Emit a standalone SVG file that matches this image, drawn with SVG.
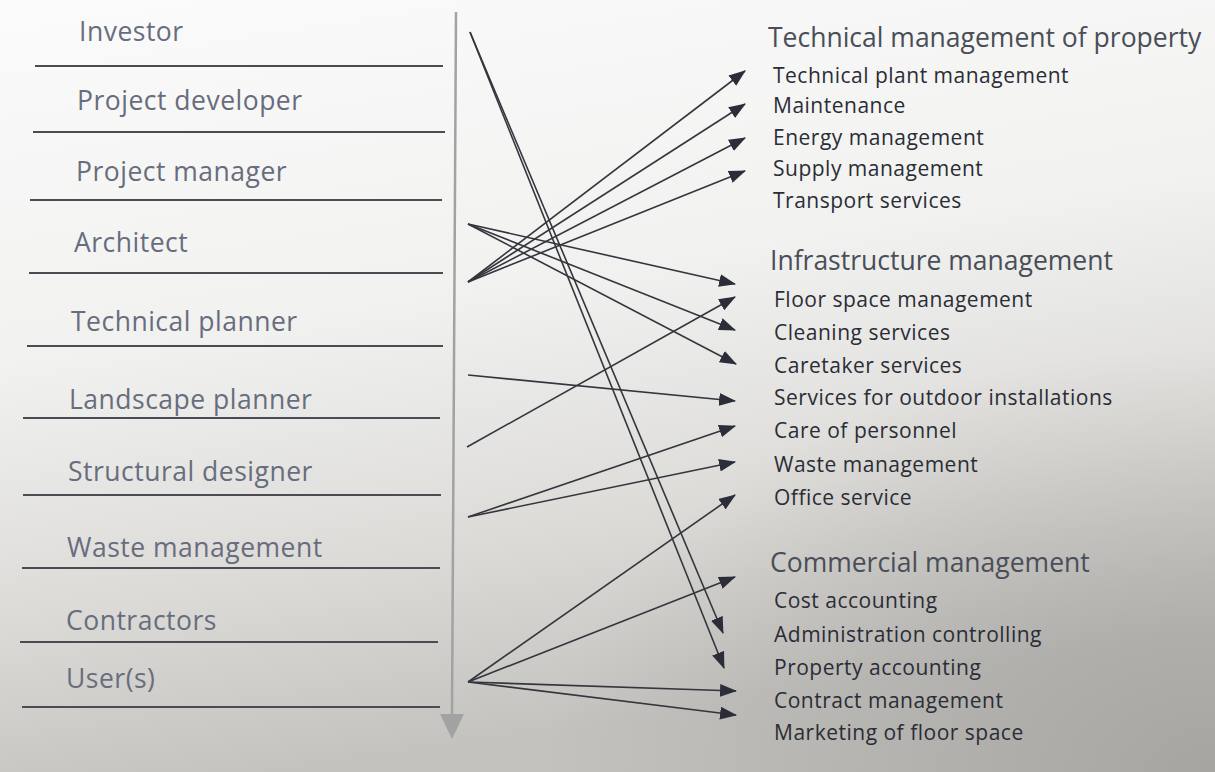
<svg xmlns="http://www.w3.org/2000/svg" width="1215" height="772" viewBox="0 0 1215 772">
  <defs>
    <linearGradient id="paper" x1="0" y1="0" x2="0.25" y2="1">
      <stop offset="0" stop-color="#fbfbfb"/>
      <stop offset="0.45" stop-color="#f1f1f0"/>
      <stop offset="0.75" stop-color="#dcdbd8"/>
      <stop offset="1" stop-color="#c4c2be"/>
    </linearGradient>
    <radialGradient id="shade" cx="1" cy="1" r="0.55">
      <stop offset="0" stop-color="#8f8d8a" stop-opacity="0.55"/>
      <stop offset="1" stop-color="#8f8d8a" stop-opacity="0"/>
    </radialGradient>
    <marker id="head" viewBox="0 0 16 12" refX="15" refY="6" markerWidth="17" markerHeight="13" markerUnits="userSpaceOnUse" orient="auto">
      <path d="M0,0 L16,6 L0,12 Z" fill="#2b2e38"/>
    </marker>
  </defs>
  <style>
    .role { font-family: "Open Sans", "Noto Sans", sans-serif; font-size: 26.5px; letter-spacing: 0.5px; fill: #686d7d; }
    .rule { stroke: #4a4c52; stroke-width: 1.8; }
    .head { font-family: "Open Sans", "Noto Sans", sans-serif; font-size: 26.5px; fill: #4a4e58; }
    .task { font-family: "Open Sans", "Noto Sans", sans-serif; font-size: 21px; font-weight: 500; letter-spacing: 0.5px; fill: #2a2d35; }
    .link { stroke: #34363d; stroke-width: 1.6; fill: none; marker-end: url(#head); }
  </style>

  <rect width="1215" height="772" fill="url(#paper)"/>
  <rect width="1215" height="772" fill="url(#shade)"/>

  <!-- time axis -->
  <g id="axis">
    <line x1="456" y1="12" x2="452" y2="716" stroke="#a2a2a2" stroke-width="2.5"/>
    <polygon points="440,714 464,714 452,739" fill="#a2a2a2"/>
  </g>

  <!-- participants (left column) -->
  <g id="investor"><text class="role" x="79" y="41">Investor</text><line class="rule" x1="35" y1="66" x2="443" y2="66"/></g>
  <g id="project-developer"><text class="role" x="77" y="110">Project developer</text><line class="rule" x1="33" y1="132" x2="445" y2="132"/></g>
  <g id="project-manager"><text class="role" x="76" y="181">Project manager</text><line class="rule" x1="30" y1="200" x2="442" y2="200"/></g>
  <g id="architect"><text class="role" x="74" y="252">Architect</text><line class="rule" x1="29" y1="273" x2="443" y2="273"/></g>
  <g id="technical-planner"><text class="role" x="71" y="331">Technical planner</text><line class="rule" x1="27" y1="346" x2="443" y2="346"/></g>
  <g id="landscape-planner"><text class="role" x="69" y="409">Landscape planner</text><line class="rule" x1="23" y1="418" x2="440" y2="418"/></g>
  <g id="structural-designer"><text class="role" x="68" y="481">Structural designer</text><line class="rule" x1="23" y1="495" x2="441" y2="495"/></g>
  <g id="waste-management"><text class="role" x="67" y="557">Waste management</text><line class="rule" x1="22" y1="568" x2="440" y2="568"/></g>
  <g id="contractors"><text class="role" x="66" y="630">Contractors</text><line class="rule" x1="20" y1="642" x2="438" y2="642"/></g>
  <g id="users"><text class="role" x="66" y="688">User(s)</text><line class="rule" x1="22" y1="707" x2="440" y2="707"/></g>

  <!-- services (right column) -->
  <g id="technical-management">
    <text class="head" x="768" y="47">Technical management of property</text>
    <text class="task" x="773" y="83">Technical plant management</text>
    <text class="task" x="773" y="113">Maintenance</text>
    <text class="task" x="773" y="145">Energy management</text>
    <text class="task" x="773" y="176">Supply management</text>
    <text class="task" x="773" y="208">Transport services</text>
  </g>
  <g id="infrastructure-management">
    <text class="head" x="770" y="270">Infrastructure management</text>
    <text class="task" x="774" y="307">Floor space management</text>
    <text class="task" x="774" y="340">Cleaning services</text>
    <text class="task" x="774" y="373">Caretaker services</text>
    <text class="task" x="774" y="405">Services for outdoor installations</text>
    <text class="task" x="774" y="438">Care of personnel</text>
    <text class="task" x="774" y="472">Waste management</text>
    <text class="task" x="774" y="505">Office service</text>
  </g>
  <g id="commercial-management">
    <text class="head" x="770" y="572">Commercial management</text>
    <text class="task" x="774" y="608">Cost accounting</text>
    <text class="task" x="774" y="642">Administration controlling</text>
    <text class="task" x="774" y="675">Property accounting</text>
    <text class="task" x="774" y="708">Contract management</text>
    <text class="task" x="774" y="740">Marketing of floor space</text>
  </g>

  <!-- connectors -->
  <g id="connectors">
    <line class="link" x1="470" y1="32" x2="723" y2="633"/>
    <line class="link" x1="470" y1="32" x2="724" y2="668"/>
    <line class="link" x1="468" y1="224" x2="735" y2="284"/>
    <line class="link" x1="468" y1="224" x2="735" y2="330"/>
    <line class="link" x1="468" y1="224" x2="736" y2="364"/>
    <line class="link" x1="468" y1="282" x2="745" y2="71"/>
    <line class="link" x1="468" y1="282" x2="745" y2="104"/>
    <line class="link" x1="468" y1="282" x2="745" y2="138"/>
    <line class="link" x1="468" y1="282" x2="745" y2="171"/>
    <line class="link" x1="468" y1="375" x2="735" y2="401"/>
    <line class="link" x1="467" y1="447" x2="735" y2="297"/>
    <line class="link" x1="468" y1="517" x2="735" y2="426"/>
    <line class="link" x1="468" y1="517" x2="735" y2="462"/>
    <line class="link" x1="468" y1="682" x2="735" y2="495"/>
    <line class="link" x1="468" y1="682" x2="735" y2="577"/>
    <line class="link" x1="468" y1="682" x2="736" y2="691"/>
    <line class="link" x1="468" y1="682" x2="736" y2="715"/>
  </g>
</svg>
